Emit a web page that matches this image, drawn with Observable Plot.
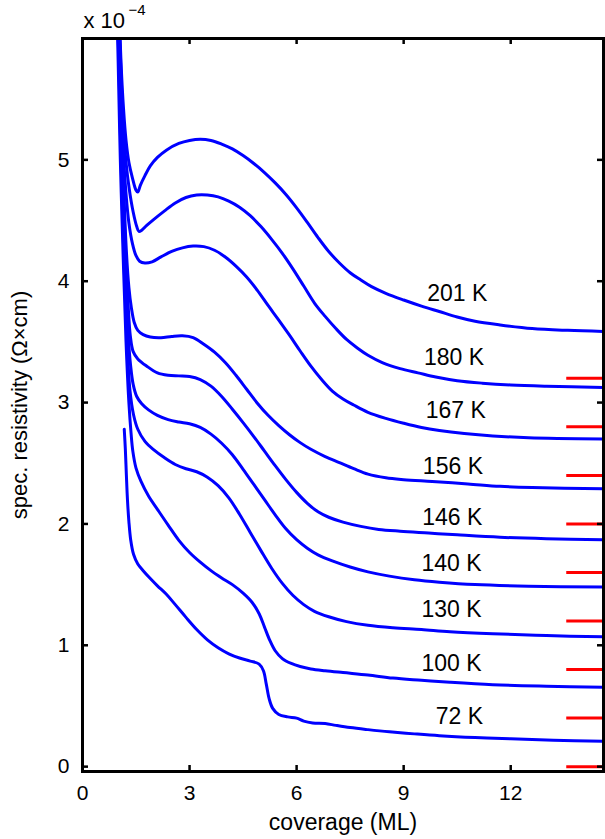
<!DOCTYPE html>
<html>
<head>
<meta charset="utf-8">
<script src="https://cdn.jsdelivr.net/npm/d3@7"></script>
<script src="https://cdn.jsdelivr.net/npm/@observablehq/plot@0.6"></script>
<style>
  html, body { margin: 0; padding: 0; background: #fff; }
  #chart svg { display: block; }
</style>
</head>
<body>
<div id="chart"></div>
<script>
// ---------- data ----------
const seriesNames = ["201 K", "180 K", "167 K", "156 K", "146 K", "140 K", "130 K", "100 K", "72 K"];

const k201 = [[1.02,6.3],[1.08,5.8],[1.15,5.42],[1.22,5.16],[1.3,4.98],[1.4,4.85],[1.5,4.75],[1.55,4.735],[1.62,4.79],[1.75,4.87],[1.9,4.95],[2.1,5.02],[2.35,5.08],[2.7,5.135],[3.0,5.16],[3.3,5.17],[3.6,5.16],[3.9,5.13],[4.2,5.09],[4.5,5.035],[4.8,4.97],[5.1,4.895],[5.4,4.81],[5.7,4.715],[6.0,4.605],[6.3,4.485],[6.6,4.36],[6.9,4.245],[7.2,4.15],[7.5,4.07],[7.8,4.01],[8.1,3.955],[8.5,3.9],[9.0,3.845],[9.5,3.795],[10.0,3.75],[10.5,3.705],[11.0,3.67],[11.7,3.64],[12.6,3.61],[13.6,3.595],[14.6,3.586]];
const k180 = [[1.01,6.3],[1.07,5.8],[1.14,5.3],[1.22,4.98],[1.31,4.76],[1.42,4.57],[1.52,4.45],[1.58,4.41],[1.66,4.42],[1.8,4.46],[2.0,4.51],[2.3,4.58],[2.6,4.645],[2.9,4.69],[3.2,4.71],[3.5,4.71],[3.8,4.695],[4.1,4.66],[4.4,4.61],[4.7,4.54],[5.0,4.45],[5.3,4.345],[5.6,4.23],[5.9,4.1],[6.2,3.96],[6.5,3.82],[6.8,3.71],[7.1,3.61],[7.4,3.52],[7.7,3.45],[8.0,3.39],[8.4,3.33],[8.9,3.28],[9.4,3.245],[9.9,3.21],[10.5,3.18],[11.2,3.16],[12.0,3.145],[13.0,3.135],[14.6,3.125]];
const k167 = [[1.0,6.3],[1.06,5.8],[1.14,5.1],[1.22,4.72],[1.3,4.48],[1.4,4.31],[1.5,4.21],[1.6,4.165],[1.75,4.15],[1.95,4.16],[2.2,4.2],[2.5,4.245],[2.8,4.275],[3.1,4.29],[3.4,4.285],[3.7,4.255],[4.0,4.2],[4.3,4.125],[4.6,4.035],[4.9,3.925],[5.2,3.8],[5.5,3.68],[5.8,3.555],[6.1,3.425],[6.4,3.3],[6.7,3.19],[7.0,3.095],[7.3,3.03],[7.6,2.98],[8.0,2.92],[8.5,2.87],[9.0,2.83],[9.5,2.795],[10.0,2.77],[10.7,2.745],[11.5,2.725],[12.5,2.71],[14.6,2.70]];
const k156 = [[1.0,6.3],[1.05,5.8],[1.13,5.0],[1.22,4.3],[1.3,3.95],[1.37,3.78],[1.45,3.66],[1.55,3.595],[1.7,3.56],[1.9,3.54],[2.2,3.535],[2.5,3.545],[2.8,3.55],[3.1,3.535],[3.4,3.48],[3.7,3.415],[4.0,3.33],[4.3,3.225],[4.6,3.11],[4.9,2.995],[5.2,2.895],[5.5,2.81],[5.8,2.735],[6.1,2.67],[6.4,2.615],[6.8,2.555],[7.2,2.505],[7.6,2.455],[8.0,2.41],[8.5,2.38],[9.0,2.365],[9.8,2.35],[10.8,2.33],[11.7,2.31],[12.6,2.30],[14.6,2.29]];
const k146 = [[0.99,6.3],[1.04,5.8],[1.11,5.0],[1.2,4.3],[1.28,3.8],[1.34,3.55],[1.42,3.42],[1.55,3.36],[1.8,3.3],[2.1,3.245],[2.4,3.225],[2.7,3.22],[3.0,3.215],[3.3,3.19],[3.6,3.135],[3.9,3.05],[4.2,2.945],[4.5,2.835],[4.8,2.72],[5.1,2.6],[5.4,2.48],[5.7,2.365],[6.0,2.26],[6.3,2.17],[6.6,2.1],[6.9,2.055],[7.3,2.015],[7.8,1.98],[8.3,1.955],[8.9,1.94],[9.7,1.925],[10.5,1.91],[11.7,1.89],[13.0,1.878],[14.6,1.87]];
const k140 = [[0.98,6.3],[1.03,5.8],[1.1,5.0],[1.18,4.2],[1.27,3.6],[1.35,3.3],[1.42,3.15],[1.52,3.05],[1.66,2.99],[1.85,2.94],[2.1,2.895],[2.4,2.86],[2.7,2.84],[3.0,2.825],[3.3,2.795],[3.6,2.74],[3.9,2.665],[4.2,2.57],[4.5,2.45],[4.8,2.325],[5.1,2.2],[5.4,2.075],[5.7,1.96],[6.0,1.87],[6.3,1.8],[6.6,1.745],[7.0,1.695],[7.5,1.645],[8.0,1.605],[8.6,1.57],[9.3,1.54],[10.0,1.52],[11.0,1.50],[12.5,1.487],[14.6,1.48]];
const k130 = [[0.97,6.3],[1.02,5.8],[1.08,5.0],[1.16,4.2],[1.25,3.5],[1.33,3.1],[1.43,2.9],[1.55,2.78],[1.75,2.68],[2.0,2.61],[2.3,2.545],[2.6,2.49],[2.9,2.455],[3.2,2.43],[3.5,2.385],[3.8,2.315],[4.1,2.215],[4.4,2.08],[4.7,1.93],[5.0,1.78],[5.3,1.635],[5.6,1.51],[5.9,1.41],[6.2,1.335],[6.5,1.28],[6.9,1.235],[7.4,1.195],[8.0,1.165],[8.7,1.145],[9.5,1.13],[10.3,1.112],[11.5,1.095],[13.0,1.08],[14.6,1.07]];
const k100 = [[0.96,6.3],[1.0,5.8],[1.06,5.0],[1.14,4.2],[1.22,3.5],[1.3,3.0],[1.36,2.75],[1.41,2.6],[1.5,2.46],[1.64,2.35],[1.85,2.23],[2.1,2.12],[2.4,1.99],[2.7,1.865],[3.0,1.765],[3.3,1.685],[3.6,1.615],[3.9,1.555],[4.2,1.5],[4.5,1.43],[4.75,1.355],[4.95,1.26],[5.1,1.15],[5.25,1.04],[5.4,0.955],[5.6,0.89],[5.85,0.85],[6.1,0.825],[6.4,0.805],[6.8,0.79],[7.3,0.775],[8.0,0.755],[8.7,0.73],[9.5,0.712],[10.3,0.695],[11.5,0.675],[13.0,0.663],[14.6,0.655]];
const k72 = [[1.17,2.78],[1.2,2.62],[1.23,2.4],[1.26,2.2],[1.3,2.02],[1.35,1.87],[1.43,1.75],[1.55,1.67],[1.7,1.615],[1.9,1.55],[2.1,1.49],[2.35,1.42],[2.6,1.335],[2.9,1.23],[3.2,1.13],[3.5,1.045],[3.8,0.98],[4.1,0.93],[4.4,0.895],[4.7,0.87],[4.95,0.845],[5.07,0.79],[5.15,0.68],[5.23,0.56],[5.33,0.48],[5.5,0.43],[5.75,0.41],[6.0,0.40],[6.2,0.375],[6.45,0.36],[6.8,0.355],[7.1,0.34],[7.5,0.322],[8.0,0.305],[8.6,0.287],[9.3,0.27],[10.0,0.255],[11.0,0.24],[12.0,0.23],[13.2,0.218],[14.6,0.21]];

const curveValues = [k201, k180, k167, k156, k146, k140, k130, k100, k72];

// label anchor positions (data units)
const labelX = [10.50, 10.41, 10.46, 10.38, 10.36, 10.34, 10.34, 10.34, 10.56];
const labelY = [3.90, 3.37, 2.935, 2.47, 2.056, 1.677, 1.29, 0.852, 0.412];

// red reference marks
const refLevels = [0, 0.4, 0.8, 1.2, 1.6, 2.0, 2.4, 2.8, 3.2];
const refRange = [13.57, 14.6];

const xTicks = [0, 3, 6, 9, 12];
const yTicks = [0, 1, 2, 3, 4, 5];
const xDomain = [0, 14.6];
const yDomain = [-0.04, 6.0];

const xTitle = "coverage (ML)";
const yTitle = "spec. resistivity (\u03A9\u00D7cm)";
const scaleText = "x 10";
const scaleExp = "\u22124";

// ---------- chart ----------
const W = 605, H = 839;
const mL = 82, mR = 2, mT = 38, mB = 68;
const frameW = W - mL - mR, frameH = H - mT - mB;
const tickLen = 6;

const rows = curveValues.flatMap((pts, i) => pts.map(([x, y]) => ({series: seriesNames[i], x, y})));
const labels = seriesNames.map((s, i) => ({text: s, x: labelX[i], y: labelY[i]}));

const font = "'Liberation Sans', Arial, Helvetica, sans-serif";

const chart = Plot.plot({
  width: W,
  height: H,
  marginLeft: mL,
  marginRight: mR,
  marginTop: mT,
  marginBottom: mB,
  x: {domain: xDomain},
  y: {domain: yDomain},
  style: {fontFamily: font, fontSize: "22px", color: "black", background: "white", overflow: "visible"},
  marks: [
    Plot.axisX(xTicks, {tickSize: 0, tickPadding: 14, fontSize: 21, label: null, tickFormat: d => String(d)}),
    Plot.axisY(yTicks, {tickSize: 0, tickPadding: 13, fontSize: 21, label: null, tickFormat: d => String(d)}),
    Plot.line(rows, {x: "x", y: "y", z: "series", stroke: "#0000ff", strokeWidth: 3, curve: "catmull-rom", clip: true}),
    Plot.ruleY(refLevels, {y: d => d, x1: refRange[0], x2: refRange[1], stroke: "#ff0000", strokeWidth: 3}),
    Plot.text(labels, {x: "x", y: "y", text: "text", fontSize: 23, textAnchor: "middle", fill: "black"}),
    // inward ticks on all four sides
    Plot.ruleX(xTicks, {x: d => d, insetTop: frameH - tickLen, stroke: "black", strokeWidth: 2.5}),
    Plot.ruleX(xTicks, {x: d => d, insetBottom: frameH - tickLen, stroke: "black", strokeWidth: 2.5}),
    Plot.ruleY(yTicks, {y: d => d, insetRight: frameW - tickLen, stroke: "black", strokeWidth: 2.5}),
    Plot.ruleY(yTicks, {y: d => d, insetLeft: frameW - tickLen, stroke: "black", strokeWidth: 2.5}),
    Plot.frame({stroke: "black", strokeWidth: 3}),
    // titles
    Plot.text([xTitle], {frameAnchor: "bottom", textAnchor: "middle", lineAnchor: "middle", dy: 51, text: d => d, fontSize: 23}),
    Plot.text([yTitle], {frameAnchor: "left", textAnchor: "middle", lineAnchor: "middle", dx: -63, rotate: -90, text: d => d, fontSize: 22}),
    Plot.text([scaleText], {frameAnchor: "top-left", textAnchor: "start", lineAnchor: "middle", dx: 1, dy: -17.5, text: d => d, fontSize: 22}),
    Plot.text([scaleExp], {frameAnchor: "top-left", textAnchor: "start", lineAnchor: "middle", dx: 46, dy: -28.5, text: d => d, fontSize: 15})
  ]
});

document.getElementById("chart").appendChild(chart);
</script>
</body>
</html>
